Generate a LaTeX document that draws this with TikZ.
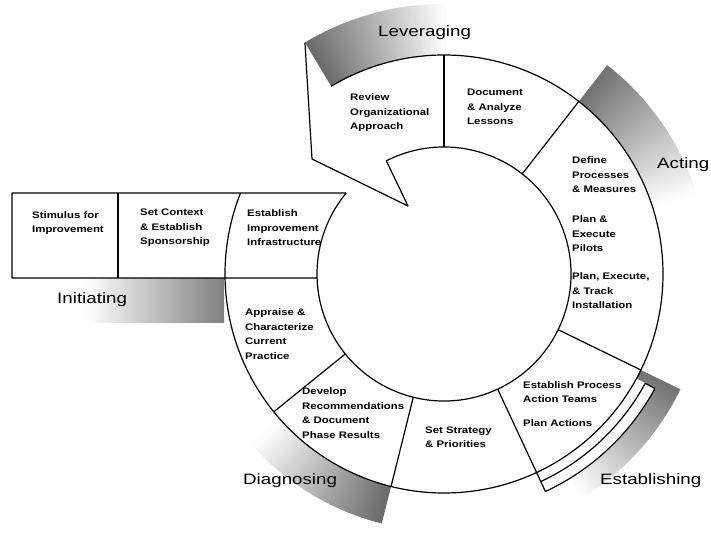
\documentclass[tikz,border=0pt]{standalone}
\usepackage{fontspec}
\setmainfont{Liberation Sans}
\newfontfamily\cellfam{Liberation Sans}[FakeStretch=1.2]
\newfontfamily\labfam{Liberation Sans}[FakeStretch=1.25]
\usetikzlibrary{calc}
% shaded ring sector: start angle (dark), end angle (white), inner r, outer r, darkness
\newcommand\gradband[5]{%
  \foreach \i in {0,...,44}{%
    \pgfmathsetmacro\ga{#1+(#2-#1)*\i/45}%
    \pgfmathsetmacro\gb{#1+(#2-#1)*(\i+1.5)/45}%
    \pgfmathsetmacro\gk{#5*(1-\i/45)}%
    \fill[black!\gk] (\ga:#3) arc[start angle=\ga,end angle=\gb,radius=#3]
      -- (\gb:#4) arc[start angle=\gb,end angle=\ga,radius=#4] -- cycle;
  }}
\begin{document}
\begin{tikzpicture}[x=1pt,y=1pt,
  rim/.style={line width=1.2pt, line join=round},
  cell/.style={font=\cellfam\bfseries\fontsize{9.5}{14.5}\selectfont, align=left, inner sep=0pt, anchor=west},
  phase/.style={font=\labfam\fontsize{15}{18}\selectfont, inner sep=0pt, anchor=west}]
\useasboundingbox[fill=white] (0,0) rectangle (711,-537);

\begin{scope}[shift={(444,-274)}]
  % shaded phase bands outside the ring
  \gradband{121}{90}{219}{270}{58}
  \gradband{52}{18}{219}{265}{55}
  \gradband{-26}{-58}{219}{263}{55}
  \gradband{-104}{-138}{219}{257}{58}
  \shade[left color=white, right color=black!50] (-359,-4) rectangle (-220,-48);
  % white rim strip of the establishing sector
  \fill[white] (-65:219) arc[start angle=-65,end angle=-28.5,radius=219]
    -- (-28.5:240) arc[start angle=-28.5,end angle=-65,radius=240] -- cycle;

  % ring outlines
  \draw[rim] (90:219) arc[start angle=90,end angle=-201.7,radius=219];
  \draw[rim] (90:219) arc[start angle=90,end angle=121,radius=219];
  \draw[rim] (117:127) arc[start angle=117,end angle=-219.6,radius=127];
  % arrow-shaped leveraging cell
  \draw[rim] (121:270) -- (-132,115) -- (-36,68) -- (117:127);
  % sector dividers
  \foreach \a in {90,52,-26,-104,-141} \draw[rim] (\a:127) -- (\a:219);
  \draw[rim] (-65:127) -- (-65:240);
  \draw[rim] (-65:229) arc[start angle=-65,end angle=-28.5,radius=229]
    -- (-28.5:240) arc[start angle=-28.5,end angle=-65,radius=240];
  % initiating row
  \draw[rim] (140.4:127) -- (-432,81) -- (-432,-4) -- (181.8:127);
  \draw[rim] (-326,81) -- (-326,-4);
\end{scope}

% cell texts
\node[cell] (stim) at (32,-223) {Stimulus for\\Improvement};
\node[cell] (ctx)  at (140,-228) {Set Context\\\& Establish\\Sponsorship};
\node[cell] (infr) at (247,-228) {Establish\\Improvement\\Infrastructure};
\node[cell] (rev)  at (350,-113) {Review\\Organizational\\Approach};
\node[cell] (doc)  at (467,-107) {Document\\\& Analyze\\Lessons};
\node[cell] (def)  at (572,-175) {Define\\Processes\\\& Measures};
\node[cell] (pil)  at (572,-234) {Plan \&\\Execute\\Pilots};
\node[cell] (inst) at (572,-291) {Plan, Execute,\\\& Track\\Installation};
\node[cell] (team) at (523,-392) {Establish Process\\Action Teams};
\node[cell] (pact) at (523,-423) {Plan Actions};
\node[cell] (strat) at (425,-437) {Set Strategy\\\& Priorities};
\node[cell] (recs) at (302,-413) {Develop\\Recommendations\\\& Document\\Phase Results};
\node[cell] (appr) at (245,-334) {Appraise \&\\Characterize\\Current\\Practice};

% phase labels
\node[phase] (lev) at (378,-33) {Leveraging};
\node[phase] (act) at (657,-165) {Acting};
\node[phase] (est) at (600,-481) {Establishing};
\node[phase] (dia) at (243,-481) {Diagnosing};
\node[phase] (ini) at (57,-300) {Initiating};
\end{tikzpicture}
\end{document}
